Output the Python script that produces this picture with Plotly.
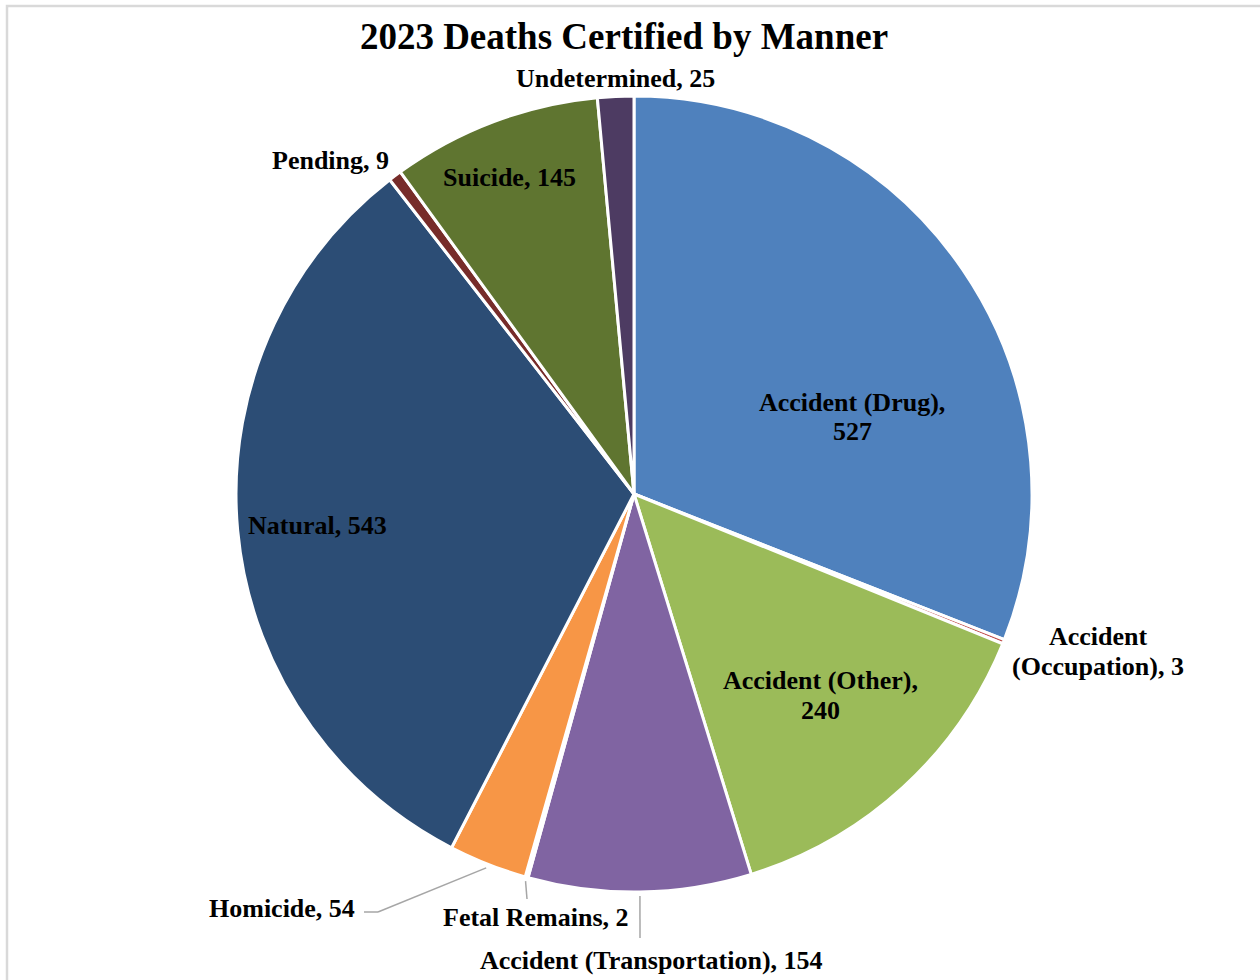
import math
import plotly.graph_objects as go

# data
categories = [
    "Accident (Drug)", "Accident (Occupation)", "Accident (Other)",
    "Accident (Transportation)", "Fetal Remains", "Homicide", "Natural",
    "Pending", "Suicide", "Undetermined",
]
deaths = [527, 3, 240, 154, 2, 54, 543, 9, 145, 25]
label_text = [
    "Accident (Drug),<br>527", "Accident<br>(Occupation), 3",
    "Accident (Other),<br>240", "Accident (Transportation), 154",
    "Fetal Remains, 2", "Homicide, 54", "Natural, 543", "Pending, 9",
    "Suicide, 145", "Undetermined, 25",
]

colors = ["#4F81BD", "#C0504D", "#9BBB59", "#8064A2", "#4BACC6",
          "#F79646", "#2C4D75", "#772C2A", "#5F7530", "#4D3B62"]

W, H = 1260, 980
CX, CY, R = 634, 494, 398

# label centres in pixels (layout only)
label_pos = [(852, 417), (1098, 651), (820, 695), (651, 960), (536, 917),
             (282, 908), (317, 525), (330, 161), (509, 177), (615, 79)]
LINE_GAP = 30
# leader line end points (pixels) for labels drawn outside the pie
leaders = {
    3: [(640, 938)],
    4: [(527, 899)],
    5: [(378, 912), (364, 912)],
}


def px(x, y):
    return x / W, 1 - y / H


fig = go.Figure()
fig.add_trace(go.Pie(
    labels=categories,
    values=deaths,
    sort=False,
    direction="clockwise",
    rotation=0,
    textinfo="none",
    hoverinfo="label+value",
    marker=dict(colors=colors, line=dict(color="white", width=3)),
    domain=dict(x=[(CX - R) / W, (CX + R) / W],
                y=[(H - CY - R) / H, (H - CY + R) / H]),
    showlegend=False,
))

serif = "Liberation Serif, Times New Roman, serif"
font = dict(family=serif, size=26, color="black")
annotations = []
for txt, (x, y) in zip(label_text, label_pos):
    lines = txt.split("<br>")
    top = y - LINE_GAP * (len(lines) - 1) / 2
    for k, line in enumerate(lines):
        ax, ay = px(x, top + k * LINE_GAP)
        annotations.append(dict(x=ax, y=ay, xref="paper", yref="paper", text="<b>" + line + "</b>",
                                showarrow=False, font=font, xanchor="center", yanchor="middle"))

shapes = []
total = sum(deaths)
cum = 0
for i, v in enumerate(deaths):
    mid = (cum + v / 2) / total * 2 * math.pi
    cum += v
    if i not in leaders:
        continue
    start = (CX + (R + 4) * math.sin(mid), CY - (R + 4) * math.cos(mid))
    pts = [start] + leaders[i]
    for (x0, y0), (x1, y1) in zip(pts[:-1], pts[1:]):
        a0, b0 = px(x0, y0)
        a1, b1 = px(x1, y1)
        shapes.append(dict(type="line", xref="paper", yref="paper", x0=a0, y0=b0, x1=a1, y1=b1,
                           line=dict(color="#A6A6A6", width=1.5)))

# chart frame
fx, fy = px(7, 6)
shapes.append(dict(type="rect", xref="paper", yref="paper", x0=fx, y0=-0.05, x1=1.05, y1=fy,
                   line=dict(color="#D9D9D9", width=2.5), fillcolor="rgba(0,0,0,0)"))

tx, ty = px(624, 36)
fig.update_layout(
    width=W, height=H, autosize=False,
    margin=dict(l=0, r=0, t=0, b=0),
    paper_bgcolor="white", plot_bgcolor="white",
    title=dict(text="<b>2023 Deaths Certified by Manner</b>", x=tx, y=ty,
               xanchor="center", yanchor="middle",
               font=dict(family=serif, size=37, color="black")),
    annotations=annotations,
    shapes=shapes,
)

fig.write_html("out.html", config={"displayModeBar": False},
               post_script="document.body.style.margin = '0';")
